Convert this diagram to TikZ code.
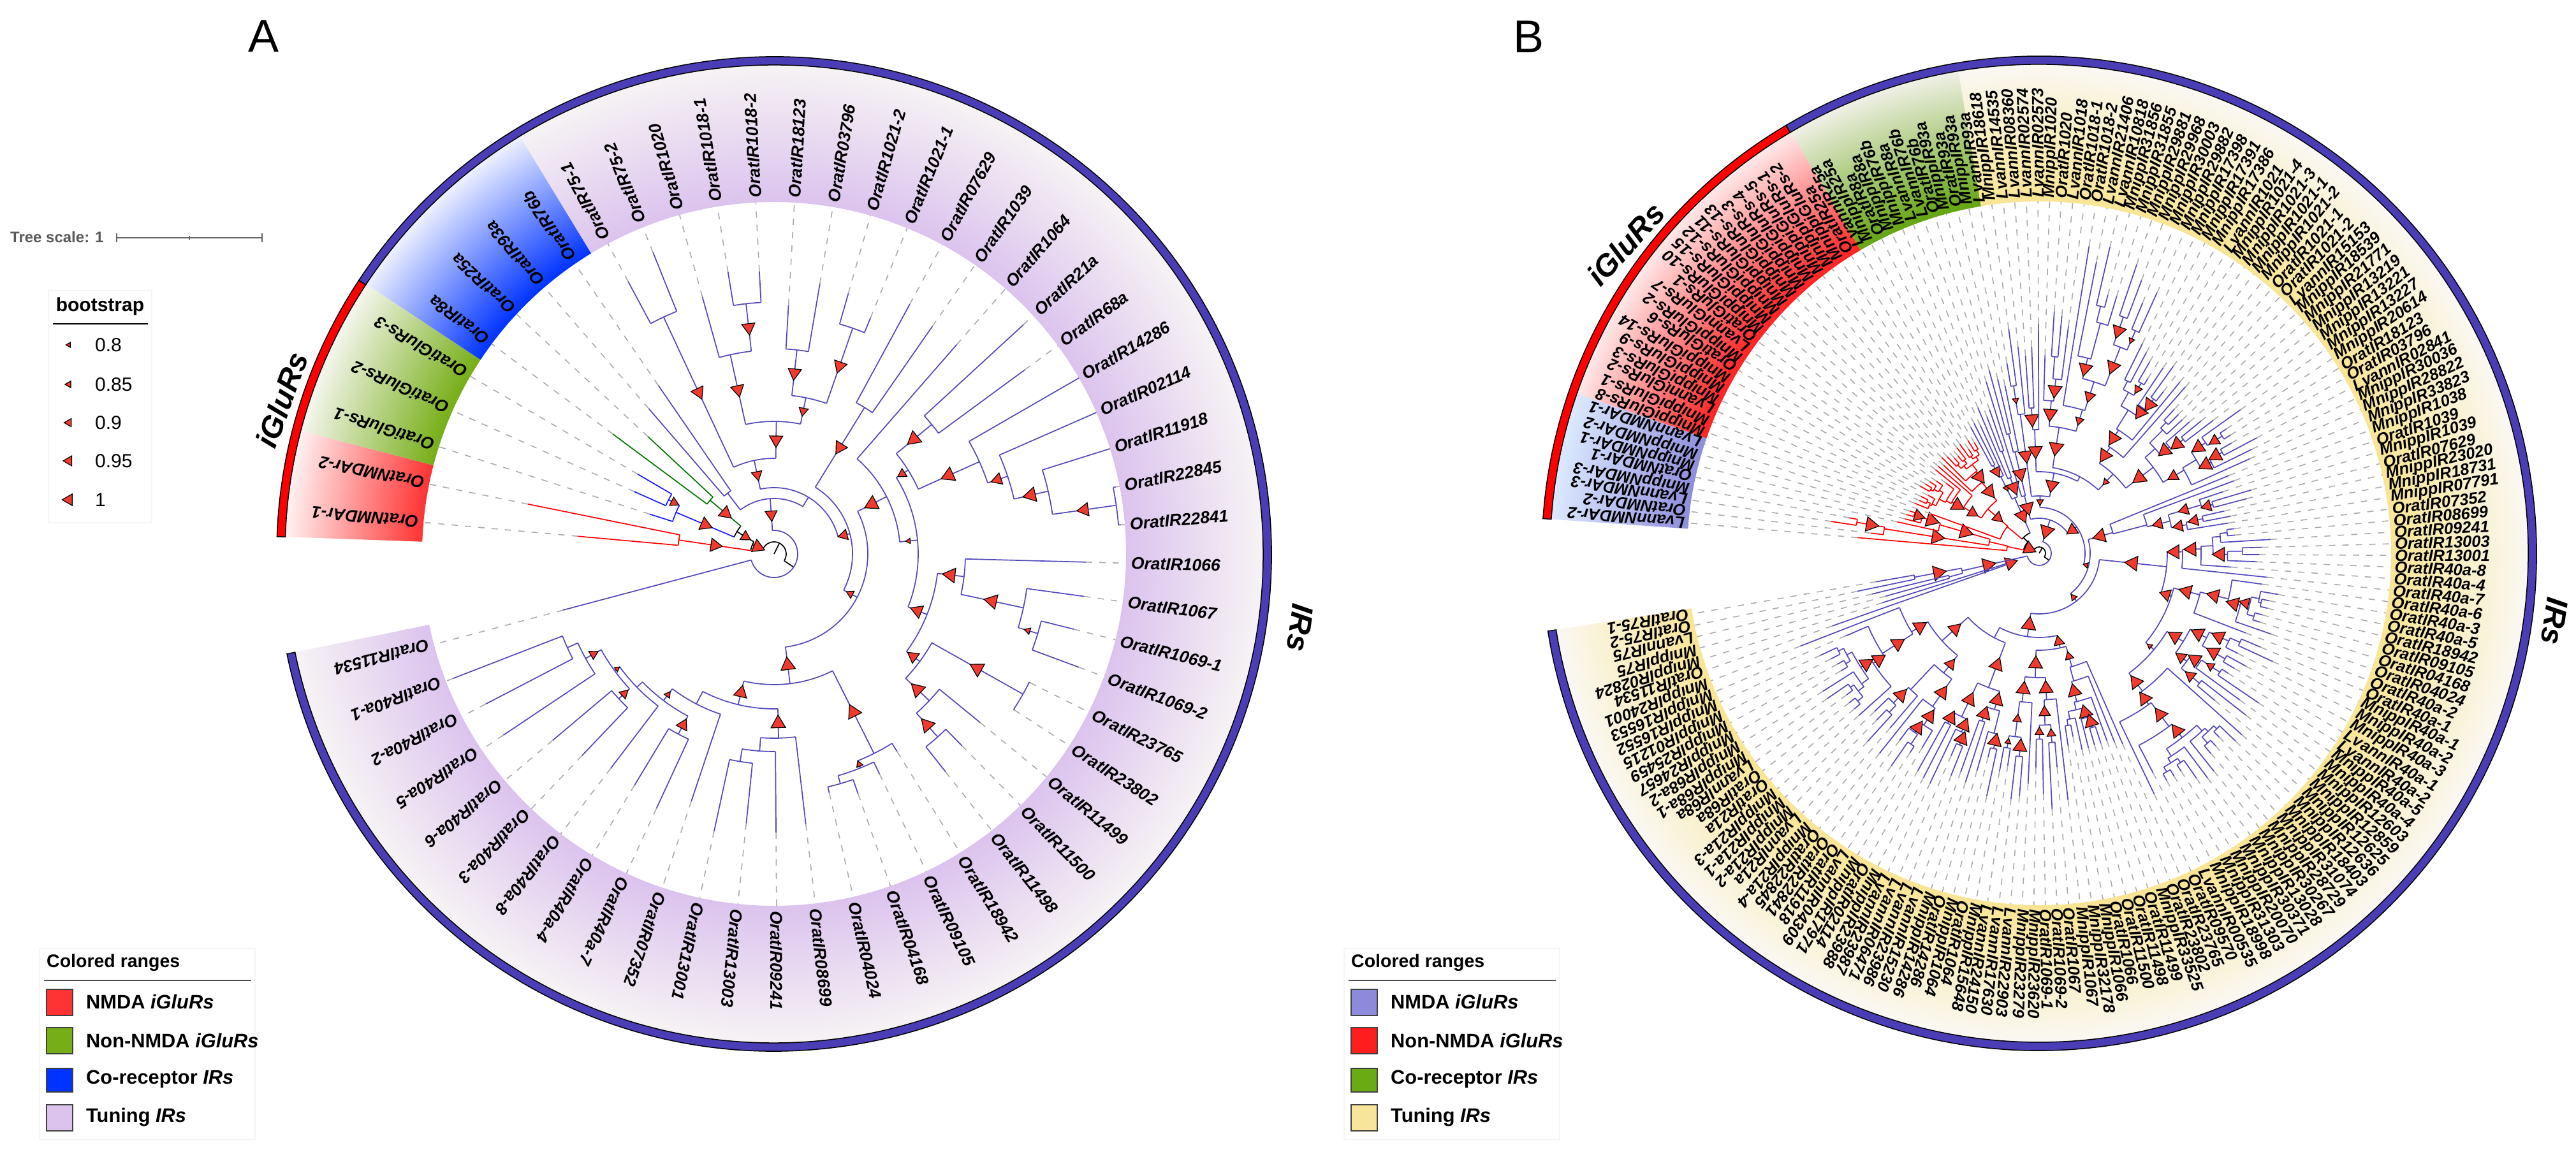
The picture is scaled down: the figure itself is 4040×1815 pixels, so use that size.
\documentclass[tikz,border=0pt]{standalone}
\usepackage{fontspec}
\setmainfont{Liberation Sans}
\definecolor{treeP}{HTML}{5148BC}
\definecolor{ringB}{HTML}{4B3DB5}
\definecolor{dashG}{HTML}{ABABAB}
\definecolor{triR}{HTML}{F23B2F}
\definecolor{aRi}{HTML}{FF3333}\definecolor{aRo}{HTML}{FFF2F2}
\definecolor{aGi}{HTML}{76AE17}\definecolor{aGo}{HTML}{F5F6EE}
\definecolor{aBi}{HTML}{0033FF}\definecolor{aBo}{HTML}{EEF1FF}
\definecolor{aPi}{HTML}{DCC3EE}\definecolor{aPo}{HTML}{F6F3F4}
\definecolor{bNi}{HTML}{8E8EDC}\definecolor{bNo}{HTML}{DCEAFF}
\definecolor{bRi}{HTML}{FF2222}\definecolor{bRo}{HTML}{FFE9E9}
\definecolor{bGi}{HTML}{64A512}\definecolor{bGo}{HTML}{F0F0E6}
\definecolor{bYi}{HTML}{F8E594}\definecolor{bYo}{HTML}{FAF8F3}
\pgfdeclareradialshading{shAR}{\pgfpoint{0bp}{0bp}}{color(0bp)=(aRi);color(18bp)=(aRi);color(25bp)=(aRo);color(50bp)=(aRo)}
\pgfdeclareradialshading{shAG}{\pgfpoint{0bp}{0bp}}{color(0bp)=(aGi);color(18bp)=(aGi);color(25bp)=(aGo);color(50bp)=(aGo)}
\pgfdeclareradialshading{shAB}{\pgfpoint{0bp}{0bp}}{color(0bp)=(aBi);color(18bp)=(aBi);color(25bp)=(aBo);color(50bp)=(aBo)}
\pgfdeclareradialshading{shAP}{\pgfpoint{0bp}{0bp}}{color(0bp)=(aPi);color(18bp)=(aPi);color(25bp)=(aPo);color(50bp)=(aPo)}
\pgfdeclareradialshading{shBN}{\pgfpoint{0bp}{0bp}}{color(0bp)=(bNi);color(18bp)=(bNi);color(25bp)=(bNo);color(50bp)=(bNo)}
\pgfdeclareradialshading{shBR}{\pgfpoint{0bp}{0bp}}{color(0bp)=(bRi);color(18bp)=(bRi);color(25bp)=(bRo);color(50bp)=(bRo)}
\pgfdeclareradialshading{shBG}{\pgfpoint{0bp}{0bp}}{color(0bp)=(bGi);color(18bp)=(bGi);color(25bp)=(bGo);color(50bp)=(bGo)}
\pgfdeclareradialshading{shBY}{\pgfpoint{0bp}{0bp}}{color(0bp)=(bYi);color(18bp)=(bYi);color(25bp)=(bYo);color(50bp)=(bYo)}
\definecolor{lbA}{HTML}{8E8ADB}\definecolor{lbB}{HTML}{FF1E1E}\definecolor{lbC}{HTML}{6AAB14}\definecolor{lbD}{HTML}{F7E59B}
\tikzset{
  tl/.style={draw=tc,line width=1.7pt},
  dl/.style={draw=dashG,line width=1.6pt,dash pattern=on 10pt off 11pt},
  trishape/.style={fill=triR,draw=black,line width=1.2pt,line join=miter},
  alab/.style={font=\fontsize{26.5}{26.5}\selectfont\bfseries\itshape,inner sep=0pt,anchor=west},
  blab/.style={font=\fontsize{25.5}{25.5}\selectfont\bfseries\itshape,inner sep=0pt,anchor=west},
  biglab/.style={font=\fontsize{48}{48}\selectfont\bfseries\itshape,inner sep=0pt},
  panel/.style={font=\fontsize{72}{72}\selectfont,inner sep=0pt},
  legh/.style={font=\fontsize{28.5}{28.5}\selectfont\bfseries,inner sep=0pt,anchor=west},
  legt/.style={font=\fontsize{30.8}{30.8}\selectfont\bfseries,inner sep=0pt,anchor=west},
  legb/.style={draw=black!4,line width=1.5pt,fill=white},
  legs/.style={draw=black!75,line width=1.6pt},
  bootn/.style={font=\fontsize{30}{30}\selectfont,inner sep=0pt,anchor=west},
  ringedge/.style={draw=black,line width=1.5pt}
}
\newcommand{\Tri}[3]{\path[trishape,shift={(#1:{#2})}] ({#1+180}:{#3*1.2}) -- ({#1+60}:{#3*1.2}) -- ({#1-60}:{#3*1.2}) -- cycle;}
\newcommand{\NodeX}[6]{%
  \draw[tl] (#1:#2) -- (#1:#3);
  \draw[tl] (#4:#3) arc[start angle=#4,end angle=#5,radius=#3];
  \ifdim#6pt>0pt\Tri{#1}{(#2+#3)/2}{#6}\fi}
\newcommand{\LeafX}[3]{%
  \draw[tl] (#1:#2) -- (#1:#3);
  \draw[dl] (#1:#3) -- (#1:552);}
\newcommand{\Band}[3]{\begin{scope}
  \clip (#2:552) arc[start angle=#2,end angle=#3,radius=552] -- (#3:767) arc[start angle=#3,end angle=#2,radius=767] -- cycle;
  \shade[shading=#1] (0,0) circle (767);\end{scope}}
\newcommand{\Ring}[3]{\path[fill=#1,ringedge] (#2:767) arc[start angle=#2,end angle=#3,radius=767] -- (#3:780) arc[start angle=#3,end angle=#2,radius=780] -- cycle;}
\newcommand{\Fan}[4]{\begingroup
  \pgfmathsetmacro\fc{176-0.943*(#1+#2+1)}%
  \ifnum#1=#2\relax
    \pgfmathsetmacro\lr{max(\Rl*(0.85+0.2*rnd),#3+12)}%
    \LeafX{\fc}{#3}{\lr}%
  \else
    \pgfmathtruncatemacro\mm{ifthenelse(rnd<0.3,#1,ifthenelse(rnd<0.43,#2-1,#1+int((#2-#1)/2)))}%
    \pgfmathtruncatemacro\mmp{\mm+1}%
    \pgfmathsetmacro\xr{rnd}%
    \pgfmathsetmacro\sz{ifthenelse(#4-#3<14,0,ifthenelse(\xr<0.22,0,ifthenelse(\xr<0.72,10.5,ifthenelse(\xr<0.86,8.5,ifthenelse(\xr<0.95,6.5,4.5)))))}%
    \pgfmathsetmacro\fa{176-0.943*(#1+\mm+1)}%
    \pgfmathsetmacro\fb{176-0.943*(\mmp+#2+1)}%
    \NodeX{\fc}{#3}{#4}{\fa}{\fb}{\sz}%
    \pgfmathsetmacro\qa{#4+(\Rl-#4)*(0.15+0.25*rnd)}%
    \pgfmathsetmacro\qb{#4+(\Rl-#4)*(0.15+0.25*rnd)}%
    \edef\doit{\noexpand\Fan{#1}{\mm}{#4}{\qa}\noexpand\Fan{\mmp}{#2}{#4}{\qb}}\doit
  \fi\endgroup}
\newcommand{\FanT}[5]{\def\Rl{#5}\Fan{#1}{#2}{#3}{#4}}
\newcommand{\LegendBox}[6]{%
  \begin{scope}[xshift=#1pt]
  \draw[legb] (62,327) rectangle (400,27);
  \node[legh] (#2t) at (73,305) {Colored ranges};
  \draw[draw=black!70,line width=1.5pt] (69,277) -- (394,277);
  \path[legs,fill=#3] (73,263) rectangle (114,222);
  \path[legs,fill=#4] (73,203) rectangle (114,162);
  \path[legs,fill=#5] (73,139) rectangle (114,102);
  \path[legs,fill=#6] (73,82) rectangle (114,41);
  \node[legt] (#2a) at (135,244) {NMDA \textit{iGluRs}};
  \node[legt] (#2b) at (135,183) {Non-NMDA \textit{iGluRs}};
  \node[legt] (#2c) at (135,122) {Co-receptor \textit{IRs}};
  \node[legt] (#2d) at (135,62) {Tuning \textit{IRs}};
  \end{scope}}
\begin{document}
\begin{tikzpicture}[x=1pt,y=1pt]
\path[fill=white] (0,0) rectangle (4040,1815);
\useasboundingbox (0,0) rectangle (4040,1815);
\pgfmathsetseed{42}
\node[panel] (pA) at (414,1758) {A};
\node[panel] (pB) at (2397,1757) {B};
% tree scale
\node[font=\fontsize{24}{24}\selectfont\bfseries,text=black!65,inner sep=0pt,anchor=west] (ts) at (16,1443) {Tree scale: 1};
\draw[draw=black!60,line width=1.8pt] (183,1442) -- (411,1442)
  (183,1435) -- (183,1449) (411,1435) -- (411,1449) (297,1439) -- (297,1445);
% bootstrap legend
\draw[legb] (76,1359) rectangle (238,995);
\node[font=\fontsize{30}{30}\selectfont\bfseries,inner sep=0pt] (bt) at (157,1334) {bootstrap};
\draw[draw=black,line width=1.5pt] (83,1307) -- (232,1307);
\foreach \yy/\ss/\vv [count=\k] in {1274/3.7/0.8,1212/5/0.85,1152/6.2/0.9,1092/7.5/0.95,1031/8.8/1}{
  \begin{scope}[shift={(108,\yy)}]\Tri{0}{0}{\ss}\end{scope}
  \node[bootn] (bv\k) at (149,\yy) {\vv};
}
\LegendBox{0}{la}{aRi}{aGi}{aBi}{aPi}
\LegendBox{2046}{lb}{lbA}{lbB}{lbC}{lbD}
%%%%%%%%%%%%%%% panel A
\begin{scope}[shift={(1214,946)}]
\Band{shAR}{178}{165.4}
\Band{shAG}{165.4}{146.5}
\Band{shAB}{146.5}{121.3}
\Band{shAP}{121.3}{-168.4}
\Ring{red}{178}{146.6}
\Ring{ringB}{146.6}{-168.4}
\node[biglab,rotate=70] (agl) at (162.6:809) {iGluRs};
\node[biglab,rotate=-98] (air) at (-8:833) {IRs};
% black root
\colorlet{tc}{black}
\foreach \t/\p/\q/\a/\b/\s in {64/0/19/157/-34/0,157/19/37/171.7/149/10,149/37/68/140/157/8,-34/19/37/-34/-34/0}{\NodeX{\t}{\p}{\q}{\a}{\b}{\s}}
% red
\colorlet{tc}{red}
\NodeX{171.7}{37}{151}{168.55}{174.85}{10}
\foreach \t/\p/\r in {168.55/151/394,174.85/151/309}{\LeafX{\t}{\p}{\r}}
% green
\colorlet{tc}{black!55!green}
\NodeX{140}{68}{131}{137.06}{143.36}{10}
\foreach \t/\p/\r in {137.06/131/270,143.36/131/315}{\LeafX{\t}{\p}{\r}}
% blue
\colorlet{tc}{blue!90!white}
\foreach \t/\p/\q/\a/\b/\s in {157/68/167/152.8/162.25/10,152.8/167/186/149.66/155.96/7}{\NodeX{\t}{\p}{\q}{\a}{\b}{\s}}
\foreach \t/\p/\r in {162.25/167/205,149.66/186/248,155.96/186/240}{\LeafX{\t}{\p}{\r}}
% purple
\colorlet{tc}{treeP}
\foreach \t/\p/\q/\a/\b/\s in {
 -34/37/37/194.9/454/0,94/37/87/127.4/58.8/9,127.4/87/120/130.77/124.47/0,58.8/87/104/102/15/0,
 102/104/150/115/89/8,115/150/410/118.17/111.87/10,89/150/208/102.4/78.5/10,102.4/208/320/105.58/96.4/10,
 96.4/320/395/99.28/92.98/10,78.5/208/250/83.6/70.8/7,83.6/250/322/86.68/80.38/10,70.8/250/375/74.09/67.79/10,
 15/104/123/58.3/-27.5/8,58.3/123/270/61.49/55.19/10,-27.5/123/147/27/-83/6,27/147/198/48.9/5.5/11,
 5.5/198/226/32/-21.6/4,32/226/248/39.4/24.2/7,39.4/248/320/42.6/36.3/11,24.2/248/353/30/18.4/11,
 18.4/353/386/23.7/12.9/9,12.9/386/441/17.4/8.1/11,8.1/441/542/11.1/4.8/10,-21.6/226/258/-6.8/-36.4/10,
 -6.8/258/300/-1.5/-12.2/11,-12.2/300/400/-7.8/-16.8/11,-16.8/400/432/-14.1/-20.4/5,-36.4/258/284/-29.4/-43.4/9,
 -29.4/284/448/-26.7/-33/11,-43.4/284/335/-39.3/-48.2/11,-48.2/335/385/-45.6/-51.8/11,-83/147/205/-63.4/-103.4/11,
 -63.4/205/350/-58.1/-68/11,-68/350/362/-64.4/-73.9/5,-73.9/362/375/-70.7/-77/0,-103.4/205/243/-117.4/-88.6/10,
 -88.6/243/289/-83.3/-94.2/11,-94.2/289/310/-89.6/-99.3/0,-99.3/310/330/-95.9/-102.2/0,-117.4/243/265/-108.5/-127/0,
 -127/265/288/-118/-135.8/5,-118/288/320/-114.8/-121.1/9,-135.8/288/300/-127.3/-143.8/0,-143.8/300/310/-137/-151/4,
 -137/310/333/-133.6/-139.9/7,-151/310/338/-146.2/-155.6/7,-155.6/338/356/-152.5/-158.8/0}{\NodeX{\t}{\p}{\q}{\a}{\b}{\s}}
\foreach \t/\p/\r in {
 130.77/120/301,124.47/120/321,118.17/410/485,111.87/410/510,105.58/320/419,99.28/395/448,92.98/395/444,
 86.68/322/391,80.38/322/430,74.09/375/425,67.79/375/400,61.49/270/446,55.19/270/435,48.9/198/436,
 42.6/320/531,36.3/320/488,30/353/552,23.7/386/552,17.4/441/552,11.1/542/546,4.8/542/546,-1.5/300/489,
 -7.8/400/491,-14.1/432/485,-20.4/432/510,-26.7/448/450,-33/448/450,-39.3/335/418,-45.6/385/421,-51.8/385/435,
 -58.1/350/365,-64.4/362/383,-70.7/375/399,-77/375/385,-83.3/289/427,-89.6/310/437,-95.9/330/425,-102.2/330/445,
 -108.5/265/409,-114.8/320/440,-121.1/320/424,-127.3/300/423,-133.6/333/437,-139.9/333/454,-146.2/338/511,
 -152.5/356/510,-158.8/356/540,-165.1/37/343}{\LeafX{\t}{\p}{\r}}
\foreach \n [count=\i from 0] in {OratNMDAr-1,OratNMDAr-2,OratiGluRs-1,OratiGluRs-2,OratiGluRs-3,OratIR8a,OratIR25a,OratIR93a,OratIR76b,OratIR75-1,OratIR75-2,OratIR1020,OratIR1018-1,OratIR1018-2,OratIR18123,OratIR03796,OratIR1021-2,OratIR1021-1,OratIR07629,OratIR1039,OratIR1064,OratIR21a,OratIR68a,OratIR14286,OratIR02114,OratIR11918,OratIR22845,OratIR22841,OratIR1066,OratIR1067,OratIR1069-1,OratIR1069-2,OratIR23765,OratIR23802,OratIR11499,OratIR11500,OratIR11498,OratIR18942,OratIR09105,OratIR04168,OratIR04024,OratIR08699,OratIR09241,OratIR13003,OratIR13001,OratIR07352,OratIR40a-7,OratIR40a-4,OratIR40a-8,OratIR40a-3,OratIR40a-6,OratIR40a-5,OratIR40a-2,OratIR40a-1,OratIR11534}{
  \pgfmathsetmacro\th{174.85-6.298*\i}
  \node[alab,rotate=\th] (a\i) at (\th:560) {\n};
}
\end{scope}
%%%%%%%%%%%%%%% panel B
\begin{scope}[shift={(3198,947)}]
\Band{shBN}{176}{160.9}
\Band{shBR}{160.9}{120.5}
\Band{shBG}{120.5}{99.5}
\Band{shBY}{99.5}{-171}
\Ring{red}{176}{120.6}
\Ring{ringB}{120.6}{-171}
\node[biglab,rotate=48] (bgl) at (143.2:810) {iGluRs};
\node[biglab,rotate=-98] (bir) at (-7.5:815) {IRs};
\colorlet{tc}{black}
\foreach \t/\p/\q/\a/\b/\s in {60/0/10/155/-35/0,-35/10/19/-35/-35/0,155/10/25/168/135/10,135/25/35/140.2/113.8/0}{\NodeX{\t}{\p}{\q}{\a}{\b}{\s}}
\colorlet{tc}{red}
\foreach \t/\p/\q/\a/\b/\s in {168/25/51/175.06/167/0,167/51/80/171/164/0,171/80/246/173.17/170.35/11,170.35/246/290/171.29/169.4/11,
 164/80/162/167.5/163/11,163/162/192/165.6/162.8/11,162.8/192/205/163.7/161.9/9}{\NodeX{\t}{\p}{\q}{\a}{\b}{\s}}
\foreach \t/\p/\r in {175.06/51/286,173.17/246/266,171.29/290/330,169.4/290/303,167.5/162/228,165.6/192/217,163.7/205/217,161.9/205/214}{\LeafX{\t}{\p}{\r}}
\FanT{8}{29}{35}{65}{205}
\colorlet{tc}{treeP}
\foreach \t/\p/\q/\a/\b/\s in {
 -35/19/19/193/432/0,193/19/42/198.4/192.75/0,198.4/42/54/199.35/197.5/10,192.75/42/124/194.65/190.85/11,
 194.65/124/146/195.6/193.7/0,190.85/124/199/191.8/189.9/11,72/19/55/104.3/35/11,35/55/72/89/-14/9,
 89/72/90/97.7/79.5/5,79.5/90/128/92.1/62/10,62/128/136/81/47/0,81/136/200/85.5/73.2/11,47/136/170/56.2/37/5,
 37/170/224/42.1/29.8/11,-14/72/80/15.7/-52/4,-52/80/95/-6/-98/5,-6/95/201/0.6/-18/11,-18/201/218/-14.5/-40/9,
 -40/218/235/-31.46/-53.15/4,-98/95/132/-118/-77.5/11,-77.5/132/152/-73.9/-91.8/8,-118/132/150/-110.7/-138/0,
 -138/150/205/-128.6/-148.4/10}{\NodeX{\t}{\p}{\q}{\a}{\b}{\s}}
\foreach \t/\p/\r in {199.35/54/344,197.5/54/258,195.6/146/250,193.7/146/270,191.8/199/291,189.9/199/260}{\LeafX{\t}{\p}{\r}}
\FanT{30}{35}{35}{95}{255}
\FanT{36}{39}{55}{93}{285}
\FanT{40}{42}{90}{220}{345}
\FanT{43}{45}{128}{194}{350}
\FanT{46}{49}{200}{240}{365}
\FanT{50}{58}{200}{235}{470}
\FanT{59}{67}{170}{200}{350}
\FanT{68}{73}{224}{245}{350}
\FanT{74}{80}{224}{262}{385}
\FanT{81}{88}{80}{120}{350}
\FanT{89}{96}{201}{225}{355}
\FanT{97}{104}{218}{260}{375}
\FanT{105}{114}{235}{265}{400}
\FanT{115}{127}{235}{270}{420}
\FanT{128}{136}{152}{185}{320}
\FanT{137}{146}{152}{195}{390}
\FanT{147}{156}{150}{225}{385}
\FanT{157}{165}{205}{240}{390}
\FanT{166}{177}{205}{235}{385}
\foreach \n [count=\i from 0] in {LvannNMDAr-2,OratNMDAr-2,LvannNMDAr-3,MnippNMDAr-3,OratNMDAr-1,MnippNMDAr-1,MnippNMDAr-2,LvannNMDAr-1,
MnippiGluRs-8,MnippiGluRs-1,LvanniGluRs-2,MnippiGluRs-3,MnippiGluRs-9,MnippiGluRs-14,OratiGluRs-6,MnippiGluRs-2,LvanniGluRs-7,OratiGluRs-1,MnippiGluRs-10,MnippiGluRs-15,MnippiGluRs-12,MnippiGluRs-11,MnippiGluRs-13,MnippiGluRs-3,MnippiGluRs-4,MnippiGluRs-5,MnippiGluRs-1,MnippiGluRs-2,OratIR25a,LvannIR25a,
MnippIR25a,OratIR8a,MnippIR8a,MnippIR76b,LvannIR8a,LvannIR76b,OratIR76b,MnippIR93a,OratIR93a,MnippIR93a,LvannIR93a,
MnippIR18618,LvannIR14535,LvannIR08360,LvannIR02574,LvannIR02573,MnippIR1020,OratIR1020,LvannIR1018,OratIR1018-1,OratIR1018-2,LvannIR21406,LvannIR10818,MnippIR31856,MnippIR31855,MnippIR29881,MnippIR29968,MnippIR30003,MnippIR29882,MnippIR17398,MnippIR17391,MnippIR17386,LvannIR1021,MnippIR1021-4,MnippIR1021-3,MnippIR1021-1,MnippIR1021-2,OratIR1021-1,OratIR1021-2,LvannIR15153,MnippIR18539,MnippIR21771,MnippIR13219,MnippIR13221,MnippIR13227,MnippIR20614,OratIR18123,OratIR03796,LvannIR02841,MnippIR30036,MnippIR28822,MnippIR33823,MnippIR1038,OratIR1039,MnippIR1039,OratIR07629,MnippIR23020,MnippIR18731,MnippIR07791,OratIR07352,OratIR08699,OratIR09241,OratIR13003,OratIR13001,OratIR40a-8,OratIR40a-4,OratIR40a-7,OratIR40a-6,OratIR40a-3,OratIR40a-5,OratIR18942,OratIR09105,OratIR04168,OratIR04024,OratIR40a-2,OratIR40a-1,MnippIR40a-1,MnippIR40a-2,MnippIR40a-3,LvannIR40a-1,LvannIR40a-2,MnippIR40a-5,MnippIR40a-4,MnippIR12603,MnippIR12859,MnippIR12625,MnippIR12636,MnippIR18403,MnippIR31074,MnippIR28729,MnippIR30267,MnippIR13028,MnippIR30371,MnippIR20070,MnippIR31303,MnippIR18998,LvannIR00535,OratIR09570,OratIR23765,OratIR23802,MnippIR33525,OratIR11499,OratIR11498,OratIR11500,OratIR1066,MnippIR1066,MnippIR32178,MnippIR1067,OratIR1067,OratIR1069-2,OratIR1069-1,MnippIR23620,MnippIR23279,LvannIR22903,LvannIR17630,LvannIR24150,MnippIR15648,OratIR1064,MnippIR1064,OratIR14286,MnippIR14286,LvannIR15230,LvannIR23986,LvannIR06471,LvannIR23987,MnippIR23988,OratIR02114,MnippIR17971,LvannIR04309,OratIR11918,OratIR22841,OratIR22845,MnippIR21a-4,LvannIR21a,MnippIR21a-2,MnippIR21a-1,MnippIR21a-3,OratIR21a,OratIR68a,LvannIR68a,MnippIR68a-1,MnippIR68a-2,MnippIR24657,MnippIR25459,MnippIR01215,MnippIR16552,MnippIR16553,MnippIR24001,OratIR11534,MnippIR02824,MnippIR75,LvannIR75,OratIR75-2,OratIR75-1}{
  \pgfmathsetmacro\th{176-1.886*(\i+0.5)}
  \node[blab,rotate=\th] (b\i) at (\th:558) {\n};
}
\end{scope}
\end{tikzpicture}
\end{document}
